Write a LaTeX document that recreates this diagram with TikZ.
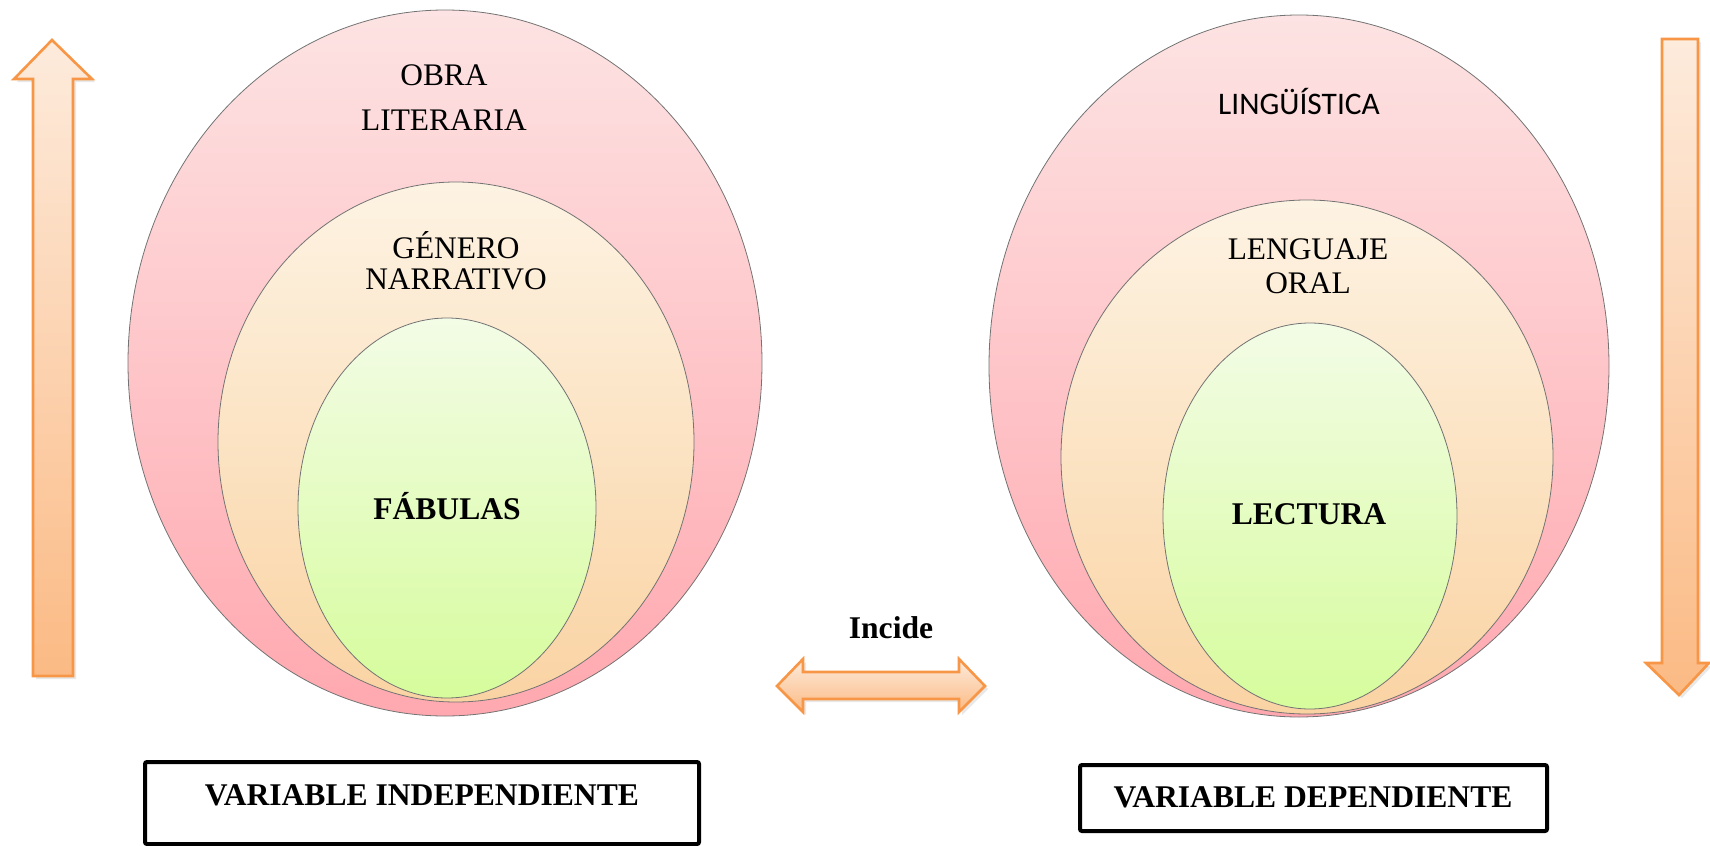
\documentclass[tikz,border=0pt]{standalone}
\usepackage{fontspec}
\setmainfont{Liberation Serif}
\newfontfamily\calibrifont{Carlito}
\usetikzlibrary{calc,shadows}

\definecolor{pinktop}{HTML}{FDE3E3}
\definecolor{pinkbot}{HTML}{FFA8AF}
\definecolor{peachtop}{HTML}{FDF3E3}
\definecolor{peachbot}{HTML}{FAD3A3}
\definecolor{greentop}{HTML}{F3FCE6}
\definecolor{greenbot}{HTML}{D6FC9C}
\definecolor{arrowtop}{HTML}{FDEBDC}
\definecolor{arrowbot}{HTML}{FBBA84}
\definecolor{arrowline}{HTML}{F79646}

\tikzset{
	ring/.style={draw=black!55, line width=0.4pt},
	bigarrow/.style={draw=arrowline, line width=1.3pt, line join=miter, top color=arrowtop, bottom color=arrowbot,
		drop shadow={shadow xshift=1.5pt, shadow yshift=-1.5pt, opacity=0.18}},
	plain/.style={font=\fontsize{15.7}{18}\selectfont, inner sep=0pt},
	strong/.style={font=\bfseries\fontsize{15.8}{18}\selectfont, inner sep=0pt},
	varbox/.style={draw=black, line width=2pt, rounded corners=1pt}
}

\begin{document}
\begin{tikzpicture}[x=0.5pt, y=-0.5pt]
		%%%%% START %%%%%
		\useasboundingbox (0, 0) rectangle (1710, 846);
		
		% left circles
		\shade[ring, top color=pinktop, bottom color=pinkbot] (445, 363) ellipse (317 and 353);
		\shade[ring, top color=peachtop, bottom color=peachbot] (456, 442) ellipse (238 and 260);
		\shade[ring, top color=greentop, bottom color=greenbot] (447, 508) ellipse (149 and 190);
		
		\node[plain] (obra) at (444, 75) {OBRA};
		\node[plain] (literaria) at (444, 120) {LITERARIA};
		\node[plain] (genero) at (456, 245) {GÉNERO};
		\node[plain] (narrativo) at (456, 279) {NARRATIVO};
		\node[strong] (fabulas) at (447, 506) {FÁBULAS};
		
		% right circles
		\shade[ring, top color=pinktop, bottom color=pinkbot] (1299, 366) ellipse (310 and 351);
		\shade[ring, top color=peachtop, bottom color=peachbot] (1307, 457) ellipse (246 and 257);
		\shade[ring, top color=greentop, bottom color=greenbot] (1310, 516) ellipse (147 and 193);
		
		\node[plain, font=\calibrifont\fontsize{15.7}{18}\selectfont] (linguistica) at (1299, 102) {LINGÜÍSTICA};
		\node[plain] (lenguaje) at (1308, 249) {LENGUAJE};
		\node[plain] (oral) at (1308, 283) {ORAL};
		\node[strong] (lectura) at (1309, 514) {LECTURA};
		
		% arrows
		\path[bigarrow] (52, 40) -- (92, 79) -- (73, 79) -- (73, 676) -- (33, 676) -- (33, 79) -- (14, 79) -- cycle;
		\path[bigarrow] (1662, 39) -- (1698, 39) -- (1698, 663) -- (1709, 663) -- (1679, 695) -- (1646, 663) -- (1662, 663) -- cycle;
		\path[bigarrow] (777, 686) -- (803, 659) -- (803, 672) -- (959, 672) -- (959, 659) -- (985, 686)
			-- (959, 712) -- (959, 699) -- (803, 699) -- (803, 712) -- cycle;
		\node[strong] (incide) at (891, 628) {Incide};
		
		% boxes
		\draw[varbox] (145, 762) rectangle (699, 844);
		\node[strong] (indep) at (422, 795) {VARIABLE INDEPENDIENTE};
		\draw[varbox] (1080, 765) rectangle (1547, 831);
		\node[strong] (dep) at (1313, 797) {VARIABLE DEPENDIENTE};
		%%%%% END %%%%%
\end{tikzpicture}
\end{document}
